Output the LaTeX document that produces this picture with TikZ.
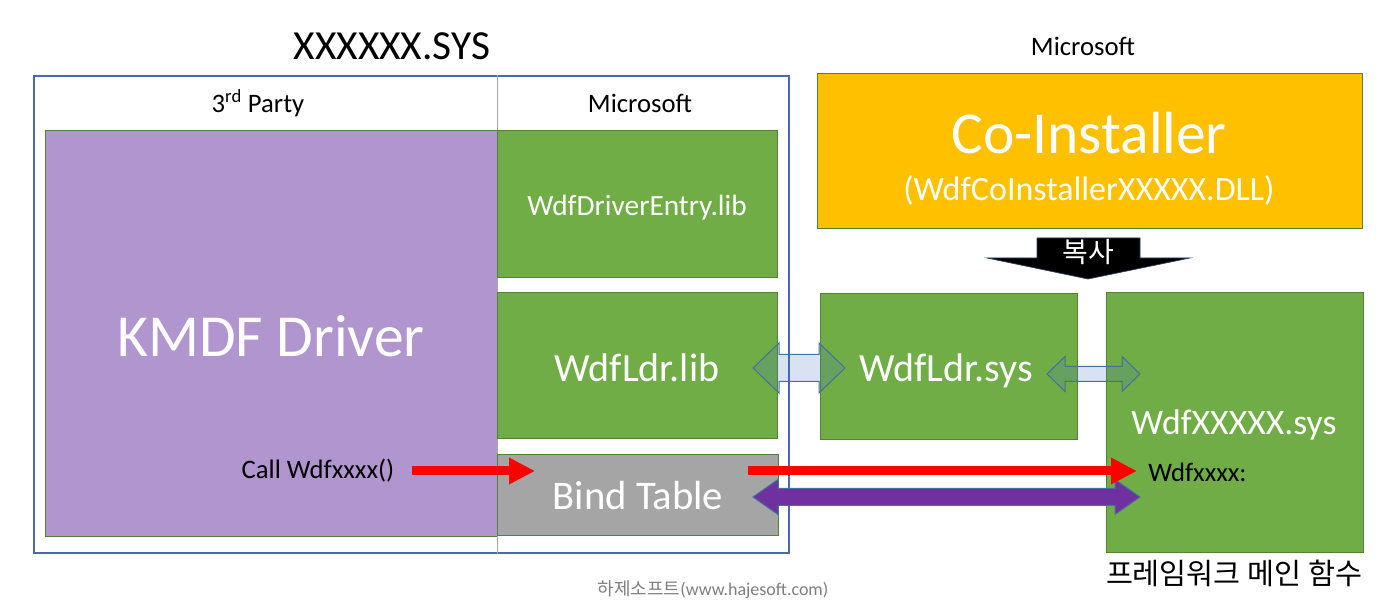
\documentclass[tikz,border=0pt]{standalone}
\usepackage{fontspec}
\setmainfont{Carlito}
\newfontfamily\kr{Noto Sans CJK KR}
\usetikzlibrary{calc,fit,arrows.meta}
\definecolor{kmdfpurple}{HTML}{B195CE}
\definecolor{msgreen}{HTML}{70AD47}
\definecolor{bindgray}{HTML}{A5A5A5}
\definecolor{coorange}{HTML}{FFC000}
\definecolor{boxline}{HTML}{548235}
\definecolor{outerblue}{HTML}{4A6AA8}
\definecolor{divgray}{HTML}{A6A6A6}
\definecolor{ldrblue}{HTML}{4472C4}
\definecolor{ldrline}{HTML}{41719C}
\definecolor{bindpurple}{HTML}{7030A0}
\definecolor{markgray}{HTML}{7F7F7F}
\newcommand\fs[1]{\fontsize{#1}{#1}\selectfont}
% double block arrow: style, left tip, right tip, head length, head half-height, shaft half-height
\newcommand\dblarrow[6]{\draw[#1] (#2) -- ($(#2)+(#4,-#5)$) -- ($(#2)+(#4,-#6)$) -- ($(#3)+(-#4,-#6)$) -- ($(#3)+(-#4,-#5)$) -- (#3) -- ($(#3)+(-#4,#5)$) -- ($(#3)+(-#4,#6)$) -- ($(#2)+(#4,#6)$) -- ($(#2)+(#4,#5)$) -- cycle;}
\begin{document}
\begin{tikzpicture}[x=0.75pt,y=-0.75pt,
  box/.style={draw=boxline, line width=0.75pt, inner sep=0pt},
  plain/.style={inner sep=0pt, text=black},
  label/.style={inner sep=0pt, text=white},
  ldrarrow/.style={draw=ldrline, line width=0.75pt, fill=ldrblue, fill opacity=0.2},
  bindarrow/.style={draw=ldrline, line width=0.75pt, fill=bindpurple},
  callarrow/.style={draw=red, line width=6.75pt, -{Triangle[length=19.5pt,width=18.75pt]}},
  copyarrow/.style={fill=black, draw=outerblue!60!black, line width=0.5pt}]
\useasboundingbox (0,0) rectangle (1389,605);
\fill[white] (0,0) rectangle (1389,605);

% title and headers
\node[plain, font=\fs{31}] (title) at (392,46) {XXXXXX.SYS};
\node[plain, font=\fs{20}] (msright) at (1083,46) {Microsoft};

% outer SYS box
\node[draw=outerblue, line width=1.1pt, inner sep=0pt, fit={(34,76)(789,553)}] (sysbox) {};
\node[plain, font=\fs{20}] (third) at (258,103) {3\textsuperscript{rd} Party};
\node[plain, font=\fs{20}] (msleft) at (640,103) {Microsoft};

% boxes
\node[box, fill=kmdfpurple, fit={(45,131)(497,537)}] (kmdf) {};
\node[label, font=\fs{44.7}] (kmdftext) at (271,336) {KMDF Driver};
\draw[divgray, line width=0.75pt] (kmdf.east |- sysbox.north) -- (kmdf.east |- sysbox.south);
\node[box, fill=msgreen, fit={(497,131)(777,278)}] (entry) {};
\node[label, font=\fs{22}] (entrytext) at (637,208) {WdfDriverEntry.lib};
\node[box, fill=msgreen, fit={(497,293)(777,439)}] (ldrlib) {};
\node[label, font=\fs{30}] (ldrlibtext) at (637,368) {WdfLdr.lib};
\node[box, fill=bindgray, fit={(497,455)(778,536)}] (bind) {};
\node[label, font=\fs{30.5}] (bindtext) at (638,496) {Bind Table};
\node[box, fill=coorange, fit={(817,74)(1362,229)}] (coinst) {};
\node[label, font=\fs{44.6}] (cotitle) at (1089,133) {Co-Installer};
\node[label, font=\fs{25.5}] (codll) at (1089,190) {(WdfCoInstallerXXXXX.DLL)};
\node[box, fill=msgreen, fit={(820,294)(1077,440)}] (ldrsys) {};
\node[label, font=\fs{30}] (ldrsystext) at (946,371) {WdfLdr.sys};
\node[box, fill=msgreen, fit={(1106,293)(1363,553)}] (wdfsys) {};
\node[label, font=\fs{26.8}] (wdfsysname) at (1234,425) {WdfXXXXX.sys};

% texts
\node[plain, font=\fs{20}] (call) at (318,471) {Call Wdfxxxx()};
\node[plain, font=\fs{20}, anchor=west] (wdfx) at (1148,472) {Wdfxxxx:};
\node[plain, font=\kr\fs{22}] (fwmain) at (1234,573) {프레임워크 메인 함수};
\node[plain, text=markgray, font=\fs{13.5}] (mark) at (713,590) {{\kr 하제소프트}(www.hajesoft.com)};

% copy arrow
\coordinate (cptip) at (1088,279);
\fill[copyarrow] (1037,238) -- (1140,238) -- (1140,258) -- (1190,258) -- (cptip) -- (987,258) -- (1037,258) -- cycle;
\node[label, font=\kr\fs{21}] (copy) at (1088,252) {복사};

% block arrows
\coordinate (la) at (753,368); \coordinate (lb) at (845,368);
\dblarrow{ldrarrow}{la}{lb}{26}{25}{13.5}
\coordinate (sa) at (1047,374); \coordinate (sb) at (1140,374);
\dblarrow{ldrarrow}{sa}{sb}{18}{17.5}{7.5}
\coordinate (pa) at (753,497); \coordinate (pb) at (1140,497);
\dblarrow{bindarrow}{pa}{pb}{25}{17.5}{8.5}

% red call arrows
\coordinate (r1s) at (412,471); \coordinate (r1e) at (535,471);
\coordinate (r2s) at (748,471); \coordinate (r2e) at (1137,471);
\draw[callarrow] (r1s) -- (r1e);
\draw[callarrow] (r2s) -- (r2e);
\end{tikzpicture}
\end{document}
